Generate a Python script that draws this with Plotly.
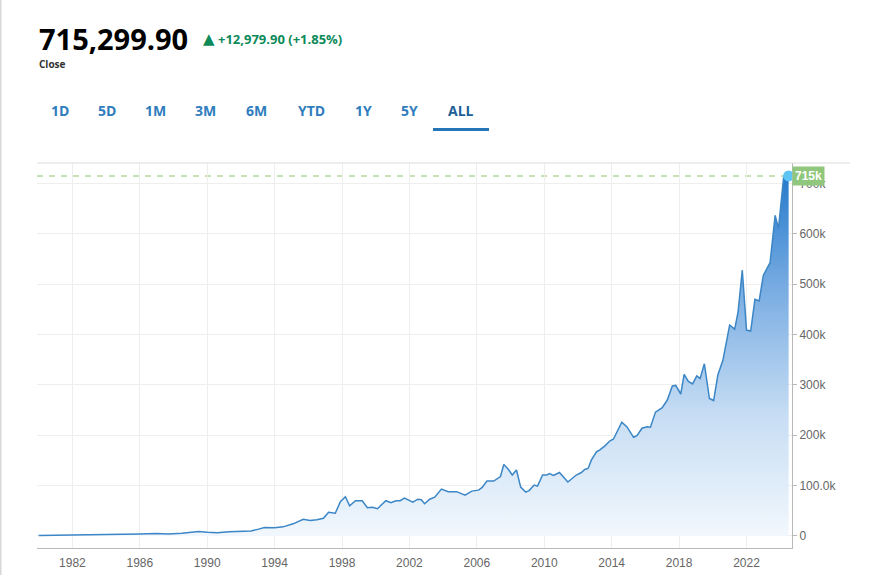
import plotly.graph_objects as go

years = [1980.0, 1981.0, 1982.0, 1983.0, 1984.0, 1985.0, 1986.0, 1987.0, 1987.7, 1988.5,
         1989.0, 1989.5, 1990.0, 1990.6, 1991.3, 1992.0, 1992.6, 1993.0, 1993.4, 1994.0,
         1994.5, 1995.1, 1995.7, 1996.1, 1996.5, 1996.9, 1997.2, 1997.6, 1997.9, 1998.2,
         1998.45, 1998.8, 1999.2, 1999.5, 1999.8, 2000.1, 2000.6, 2000.9, 2001.2, 2001.45,
         2001.7, 2002.2, 2002.5, 2002.7, 2002.9, 2003.2, 2003.5, 2003.9, 2004.3, 2004.8,
         2005.3, 2005.7, 2006.1, 2006.3, 2006.6, 2007.0, 2007.4, 2007.6, 2007.85, 2008.1,
         2008.35, 2008.6, 2008.9, 2009.1, 2009.4, 2009.6, 2009.9, 2010.15, 2010.3, 2010.55,
         2010.9, 2011.4, 2011.9, 2012.2, 2012.4, 2012.6, 2012.8, 2013.1, 2013.3, 2013.6,
         2013.9, 2014.1, 2014.6, 2014.9, 2015.3, 2015.5, 2015.8, 2016.1, 2016.3, 2016.6,
         2017.0, 2017.3, 2017.6, 2017.8, 2018.1, 2018.3, 2018.55, 2018.8, 2019.05, 2019.25,
         2019.5, 2019.8, 2020.05, 2020.3, 2020.6, 2021.0, 2021.3, 2021.5, 2021.75, 2022.0,
         2022.25, 2022.5, 2022.75, 2023.0, 2023.4, 2023.7, 2023.9, 2024.2, 2024.5]

values_k = [1.0, 1.3, 1.6, 2.0, 2.6, 3.0, 3.6, 4.6, 3.8, 5.2,
            6.5, 9.0, 7.2, 6.2, 8.2, 9.0, 9.6, 13.0, 16.5, 16.2,
            18.0, 24.0, 33.0, 30.5, 32.0, 35.0, 47.0, 45.0, 68.0, 78.0,
            60.0, 70.0, 70.0, 56.0, 57.0, 54.0, 70.0, 66.0, 70.0, 70.0,
            75.0, 67.0, 73.0, 72.0, 64.0, 73.0, 77.0, 93.0, 88.0, 88.0,
            81.0, 89.0, 91.0, 96.0, 109.0, 109.0, 118.0, 142.0, 133.0, 121.0,
            131.0, 97.0, 87.0, 90.0, 101.0, 99.0, 121.0, 121.0, 124.0, 120.0,
            126.0, 107.0, 121.0, 126.0, 132.0, 134.0, 151.0, 167.0, 171.0, 179.0,
            189.0, 192.0, 226.0, 217.0, 196.0, 199.0, 214.0, 217.0, 216.0, 246.0,
            255.0, 270.0, 298.0, 299.0, 282.0, 321.0, 307.0, 302.0, 318.0, 313.0,
            342.0, 273.0, 269.0, 320.0, 349.0, 419.0, 411.0, 445.0, 528.0, 409.0,
            407.0, 470.0, 467.0, 518.0, 543.0, 637.0, 611.0, 712.0, 715.2999]

values = [v * 1000 for v in values_k]

x_tick_vals = [1982, 1986, 1990, 1994, 1998, 2002, 2006, 2010, 2014, 2018, 2022]
x_tick_text = [str(v) for v in x_tick_vals]
y_tick_vals = [0, 100000, 200000, 300000, 400000, 500000, 600000, 700000]
y_tick_text = ["0", "100.0k", "200k", "300k", "400k", "500k", "600k", "700k"]

tabs = ["1D", "5D", "1M", "3M", "6M", "YTD", "1Y", "5Y", "ALL"]
tab_px = [60, 107, 155, 205, 256, 311, 363, 409, 461]

close_text = "715,299.90"
change_text = "+12,979.90 (+1.85%)"
tag_text = "715k"

# layout geometry (pixels)
L, R, T, B = 37, 88, 163, 27
W, H = 880, 575
pw, ph = W - L - R, H - T - B

def px_x(p):
    return (p - L) / pw

def px_y(p):
    return (H - B - p) / ph

fig = go.Figure()
fig.add_trace(go.Scatter(
    x=years, y=values, mode="lines",
    line=dict(color="#3b86c6", width=1.5),
    fill="tozeroy",
    fillgradient=dict(type="vertical", start=-24000, stop=max(values),
                      colorscale=[[0, "rgba(246,250,254,1)"], [0.35, "rgba(200,222,244,1)"],
                                  [0.7, "rgba(120,172,226,1)"], [1, "rgba(38,122,204,1)"]]),
    hoverinfo="skip", showlegend=False))

# last point marker
fig.add_trace(go.Scatter(
    x=[years[-1]], y=[values[-1]], mode="markers",
    marker=dict(color="#5ec4f4", size=11, line=dict(width=0)),
    hoverinfo="skip", showlegend=False, cliponaxis=False))

# dashed last-value line
fig.add_shape(type="line", xref="x", yref="y", x0=1979.9, x1=years[-1],
              y0=values[-1], y1=values[-1],
              line=dict(color="#b4d99c", width=1.5, dash="6px,6px"), layer="below")

fig.add_annotation(x=years[-1], y=values[-1], xref="x", yref="y", text="<b>" + tag_text + "</b>",
                   showarrow=False, xanchor="left", yanchor="middle", xshift=3,
                   bgcolor="#8fc77d", borderpad=2,
                   font=dict(family="Liberation Sans, Arial", size=12, color="white"))

# header
fig.add_annotation(xref="paper", yref="paper", x=px_x(37), y=px_y(38), text="<b>" + close_text + "</b>",
                   showarrow=False, xanchor="left", yanchor="middle",
                   font=dict(family="Open Sans", size=29, color="#000000", weight=800))
fig.add_annotation(xref="paper", yref="paper", x=px_x(201), y=px_y(39), text="▲",
                   showarrow=False, xanchor="left", yanchor="middle",
                   font=dict(family="DejaVu Sans", size=15, color="#0c8a5a"))
fig.add_annotation(xref="paper", yref="paper", x=px_x(216), y=px_y(39), text="<b>" + change_text + "</b>",
                   showarrow=False, xanchor="left", yanchor="middle",
                   font=dict(family="Open Sans", size=13, color="#0c8a5a"))
fig.add_annotation(xref="paper", yref="paper", x=px_x(37), y=px_y(64), text="<b>Close</b>",
                   showarrow=False, xanchor="left", yanchor="middle",
                   font=dict(family="Open Sans", size=10, color="#333333"))

for t, p in zip(tabs, tab_px):
    fig.add_annotation(xref="paper", yref="paper", x=px_x(p), y=px_y(110), text="<b>" + t + "</b>",
                       showarrow=False, xanchor="center", yanchor="middle",
                       font=dict(family="Open Sans", size=14,
                                 color="#1b5f97" if t == "ALL" else "#2f7dbd"))

fig.add_shape(type="rect", xref="paper", yref="paper", x0=px_x(433), x1=px_x(489),
              y0=px_y(131), y1=px_y(128), fillcolor="#2576b8", line=dict(width=0))

# left border and top line
fig.add_shape(type="line", xref="paper", yref="paper", x0=px_x(0.5), x1=px_x(0.5),
              y0=px_y(575), y1=px_y(0), line=dict(color="#d8d8d8", width=2))
fig.add_shape(type="line", xref="paper", yref="paper", x0=0, x1=px_x(850),
              y0=1, y1=1, line=dict(color="#dcdcdc", width=1))

fig.update_layout(
    width=W, height=H, margin=dict(l=L, r=R, t=T, b=B, autoexpand=False),
    paper_bgcolor="white", plot_bgcolor="white",
    font=dict(family="Liberation Sans, Arial", size=12, color="#666666"),
    xaxis=dict(range=[1979.9, 2024.7], tickvals=x_tick_vals, ticktext=x_tick_text,
               showgrid=True, gridcolor="#eeeeee", gridwidth=1, automargin=False,
               showline=True, linecolor="#b8b8b8", linewidth=1,
               ticks="", ticklabelstandoff=4, zeroline=False, tickfont=dict(color="#666666", size=12)),
    yaxis=dict(range=[-24000, 741000], side="right", tickvals=y_tick_vals, ticktext=y_tick_text,
               showgrid=True, gridcolor="#eeeeee", gridwidth=1, automargin=False,
               showline=True, linecolor="#b8b8b8", linewidth=1,
               ticks="outside", ticklen=4, tickcolor="#b8b8b8",
               zeroline=False, tickfont=dict(color="#666666", size=12)),
)

fig.write_html("out.html")
